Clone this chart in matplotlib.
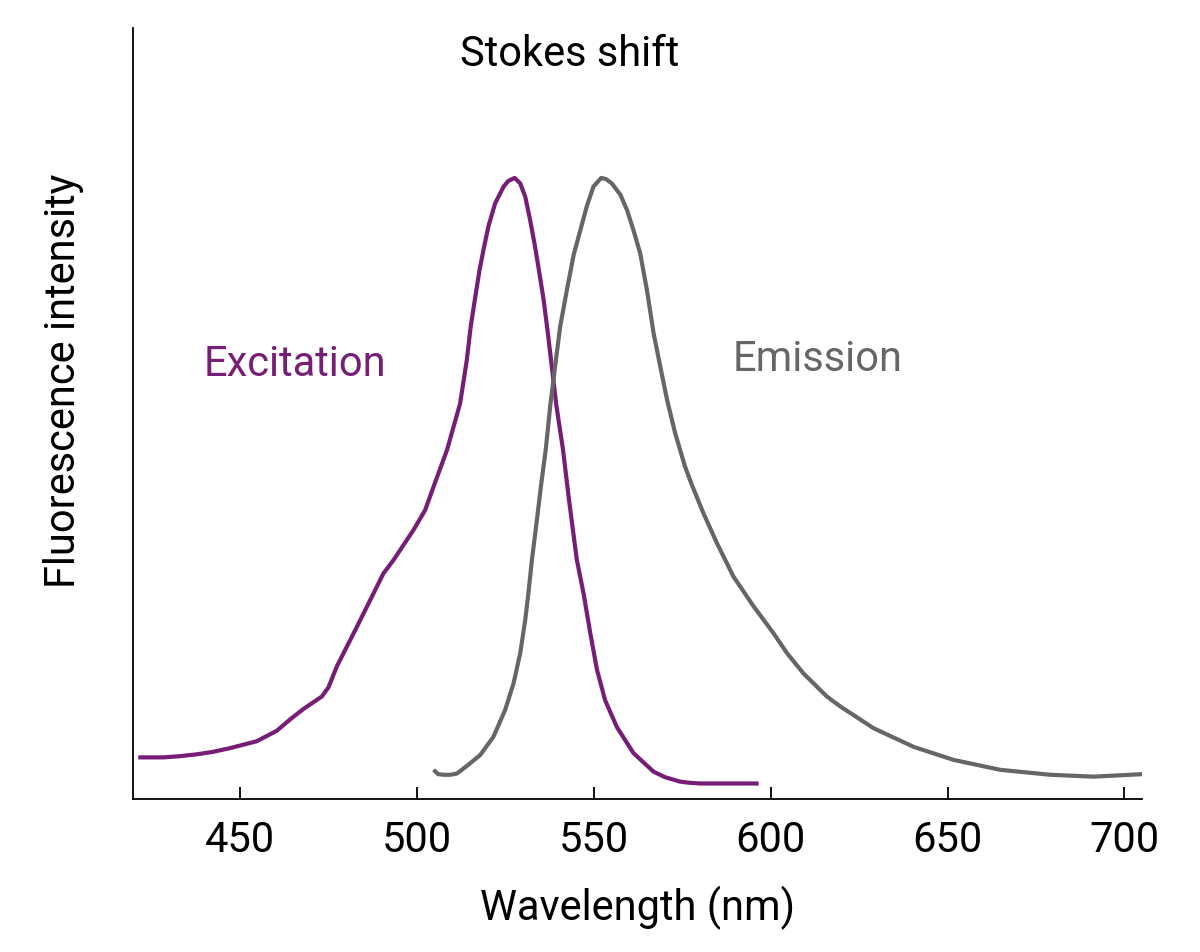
import matplotlib
matplotlib.use("Agg")
import matplotlib.pyplot as plt

plt.rcParams['font.family'] = ['Roboto', 'DejaVu Sans']

# excitation spectrum (nm, relative intensity)
ex_nm = [421.2, 428.3, 433.0, 437.8, 442.4, 447.2, 454.7, 460.4, 464.1, 467.9,
         473.1, 475.0, 477.3, 483.0, 490.5, 493.4, 499.0, 502.3, 504.7, 508.5,
         512.2, 514.1, 515.2, 516.5, 517.7, 518.8, 520.2, 522.1, 524.5, 525.8,
         527.6, 529.2, 530.6, 532.0, 533.4, 534.6, 535.8, 536.9, 537.9, 539.4,
         541.3, 543.0, 545.2, 547.1, 549.0, 550.9, 553.2, 556.5, 561.2, 566.9,
         570.2, 574.4, 577.3, 580.1, 596.6]
ex_int = [0.067, 0.067, 0.069, 0.072, 0.076, 0.082, 0.093, 0.110, 0.128, 0.145,
          0.165, 0.180, 0.213, 0.277, 0.363, 0.385, 0.433, 0.465, 0.503, 0.562,
          0.637, 0.707, 0.761, 0.809, 0.852, 0.884, 0.922, 0.959, 0.986, 0.995,
          1.000, 0.991, 0.970, 0.932, 0.889, 0.847, 0.804, 0.755, 0.707, 0.634,
          0.562, 0.481, 0.385, 0.331, 0.267, 0.208, 0.159, 0.116, 0.074, 0.044,
          0.035, 0.028, 0.026, 0.025, 0.025]

# emission spectrum
em_nm = [504.7, 506.0, 507.5, 509.4, 511.3, 514.5, 517.9, 521.6, 524.9, 527.3,
         529.2, 530.6, 531.5, 532.5, 533.9, 535.1, 536.4, 537.7, 539.4, 540.5,
         542.4, 544.3, 546.2, 548.0, 549.9, 552.1, 553.5, 555.1, 557.5, 559.4,
         561.2, 563.1, 565.0, 566.9, 568.8, 570.7, 573.0, 575.8, 577.7, 581.0,
         584.8, 589.5, 595.2, 600.8, 604.6, 609.3, 615.9, 619.7, 629.1, 640.4,
         651.7, 664.9, 679.1, 691.3, 705.0]
em_int = [0.047, 0.040, 0.039, 0.039, 0.041, 0.055, 0.071, 0.100, 0.143, 0.186,
          0.235, 0.288, 0.331, 0.385, 0.449, 0.506, 0.562, 0.634, 0.712, 0.761,
          0.820, 0.876, 0.916, 0.954, 0.986, 1.000, 0.998, 0.991, 0.973, 0.948,
          0.916, 0.879, 0.820, 0.750, 0.696, 0.643, 0.589, 0.535, 0.506, 0.460,
          0.412, 0.358, 0.310, 0.267, 0.235, 0.202, 0.165, 0.149, 0.114, 0.084,
          0.063, 0.047, 0.039, 0.036, 0.040]

ticks = [450, 500, 550, 600, 650, 700]

PURPLE = '#761d76'
GREY = '#666666'
FS = 30

fig = plt.figure(figsize=(12, 9.52), dpi=100)
ax = fig.add_axes([0.1108, 0.1607, 0.8406, 0.81])

ax.plot(ex_nm, ex_int, color=PURPLE, lw=3.0, solid_joinstyle='round', solid_capstyle='butt')
ax.plot(em_nm, em_int, color=GREY, lw=3.0, solid_joinstyle='round', solid_capstyle='butt')

ax.set_xlim(419.7, 704.9)
ax.set_ylim(0, 1.2415)

for s in ['top', 'right']:
    ax.spines[s].set_visible(False)
for s in ['left', 'bottom']:
    ax.spines[s].set_linewidth(1.3)

ax.set_xticks(ticks)
ax.set_xticklabels([str(t) for t in ticks])
ax.set_yticks([])
ax.tick_params(axis='x', direction='in', length=8.6, width=1.3, pad=15, labelsize=FS)

ax.set_xlabel('Wavelength (nm)', fontsize=FS, labelpad=18)
ax.set_ylabel('Fluorescence intensity', fontsize=FS)
ax.yaxis.set_label_coords(-0.049, 0.542)

ax.text(465.6, 0.699, 'Excitation', color=PURPLE, fontsize=FS, ha='center', va='center')
ax.text(613.2, 0.707, 'Emission', color=GREY, fontsize=FS, ha='center', va='center')
ax.text(543.3, 1.198, 'Stokes shift', color='black', fontsize=FS, ha='center', va='center')

fig.savefig('out.png', dpi=100)
